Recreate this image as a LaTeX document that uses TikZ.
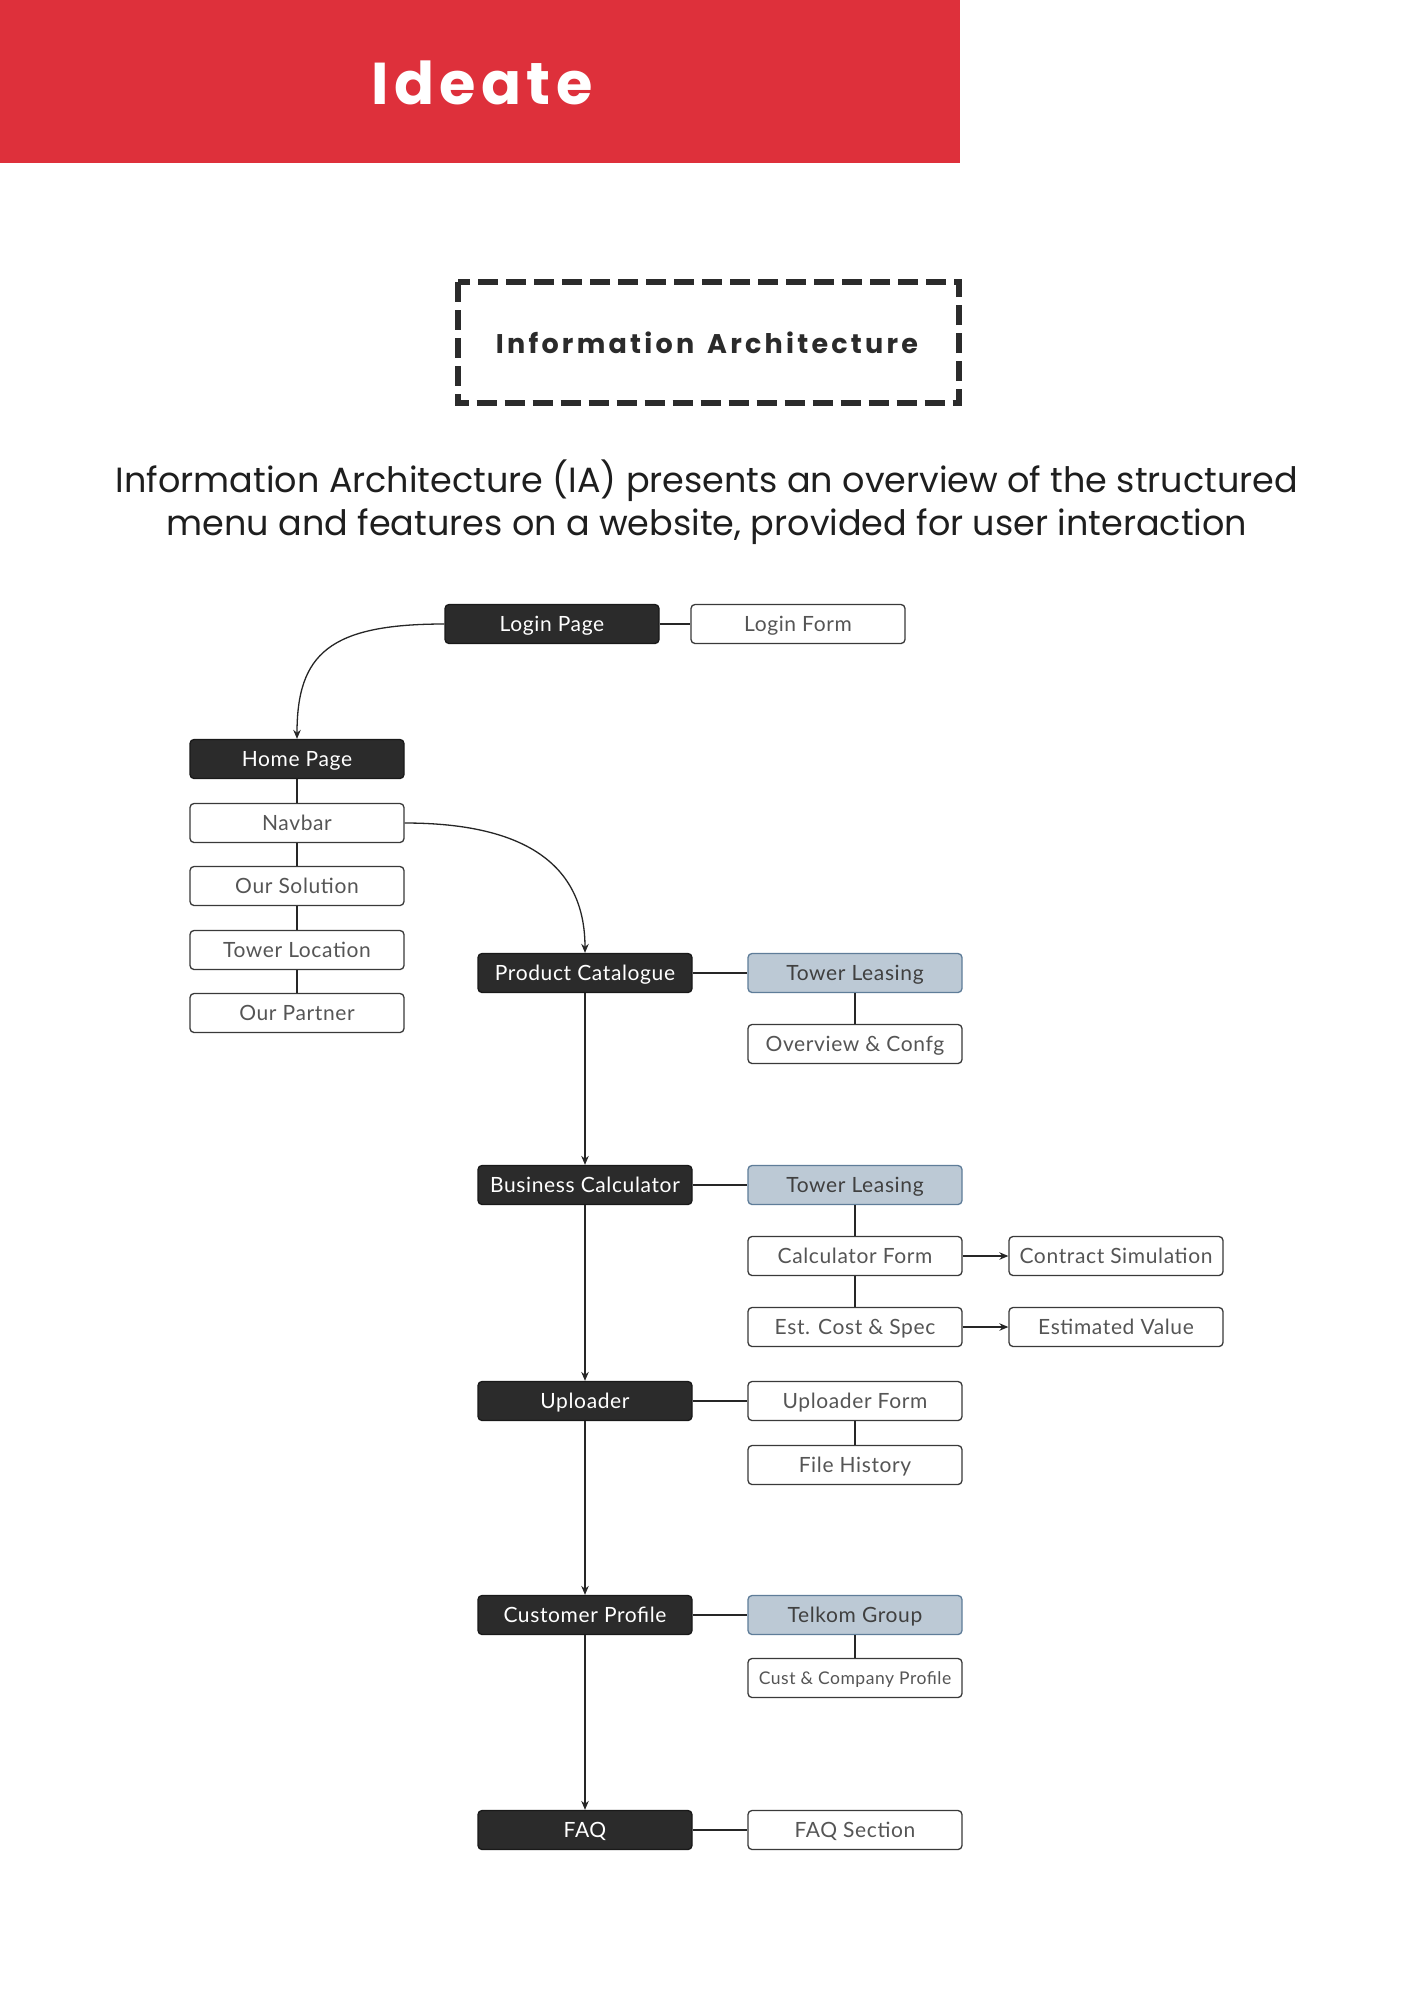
\documentclass[tikz,border=0pt]{standalone}
\usepackage{fontspec}
\setmainfont{Poppins}
\newfontfamily\headfont[LetterSpace=12]{Poppins}
\newfontfamily\ideatefont[LetterSpace=9]{Poppins}
\newfontfamily\nodefont[LetterSpace=3]{Lato}
\usetikzlibrary{arrows.meta}
\definecolor{banner}{HTML}{DE303B}
\definecolor{darkbox}{HTML}{2B2B2B}
\definecolor{bluefill}{HTML}{BCC9D5}
\definecolor{blueline}{HTML}{5F7D99}
\definecolor{boxline}{HTML}{3A3A3A}
\definecolor{graytext}{HTML}{555555}
\definecolor{inktext}{HTML}{1E1E1E}
\begin{document}
\begin{tikzpicture}[x=1pt,y=-1pt,
 base/.style={rounded corners=4pt, minimum width=214pt, minimum height=39pt, line width=1.3pt, inner sep=0pt, text height=15pt, text depth=0pt, font=\nodefont\fontsize{21}{24}\selectfont},
 darkbox/.style={base, fill=darkbox, draw=black!90, text=white},
 lightbox/.style={base, fill=white, draw=boxline, text=graytext},
 bluebox/.style={base, fill=bluefill, draw=blueline, text=black!75},
 link/.style={line width=1.3pt, draw=black!85},
 arr/.style={link, -{Stealth[length=9pt,width=7.5pt]}},
]
\useasboundingbox (0,0) rectangle (1414,2000);
\fill[white] (0,0) rectangle (1414,2000);
\fill[banner] (0,0) rectangle (960,163);
\node[text=white, font=\ideatefont\bfseries\fontsize{59}{70}\selectfont] (ideate) at (482,83) {Ideate};
\draw[draw=darkbox, line width=6pt, dash pattern=on 20pt off 8pt] (457.5,282) rectangle (958.5,403);
\node[text=darkbox, font=\headfont\bfseries\fontsize{27}{32}\selectfont] (iatitle) at (707,343) {Information\hspace{4pt} Architecture};
\node[text=inktext, align=center, font=\fontsize{35}{43}\selectfont] (para) at (707,502) {Information Architecture (IA) presents an overview of the structured\\menu and features on a website, provided for user interaction};

% left column
\node[darkbox] (login) at (552,624) {Login Page};
\node[lightbox] (loginform) at (798,624) {Login Form};
\node[darkbox] (home) at (297,759) {Home Page};
\node[lightbox] (navbar) at (297,823) {Navbar};
\node[lightbox] (solution) at (297,886) {Our Solution};
\node[lightbox] (towerloc) at (297,950) {Tower Location};
\node[lightbox] (partner) at (297,1013) {Our Partner};

% main column
\node[darkbox] (catalogue) at (585,973) {Product Catalogue};
\node[darkbox] (calc) at (585,1185) {Business Calculator};
\node[darkbox] (uploader) at (585,1401) {Uploader};
\node[darkbox] (profile) at (585,1615) {Customer Profile};
\node[darkbox] (faq) at (585,1830) {FAQ};

% right column
\node[bluebox] (lease1) at (855,973) {Tower Leasing};
\node[lightbox] (overview) at (855,1044) {Overview \& Confg};
\node[bluebox] (lease2) at (855,1185) {Tower Leasing};
\node[lightbox] (calcform) at (855,1256) {Calculator Form};
\node[lightbox] (estcost) at (855,1327) {Est. Cost \& Spec};
\node[lightbox] (contract) at (1116,1256) {Contract Simulation};
\node[lightbox] (estvalue) at (1116,1327) {Estimated Value};
\node[lightbox] (upform) at (855,1401) {Uploader Form};
\node[lightbox] (history) at (855,1465) {File History};
\node[bluebox] (telkom) at (855,1615) {Telkom Group};
\node[lightbox, text height=12.5pt, font=\nodefont\fontsize{17.5}{20}\selectfont] (custprof) at (855,1678) {Cust \& Company Profile};
\node[lightbox] (faqsec) at (855,1830) {FAQ Section};

% connectors
\draw[arr] (login.west) .. controls +(-115,0) and +(0,-85) .. (home.north);
\draw[link] (login) -- (loginform);
\draw[link] (home) -- (navbar);
\draw[link] (navbar) -- (solution);
\draw[link] (solution) -- (towerloc);
\draw[link] (towerloc) -- (partner);
\draw[arr] (navbar.east) .. controls +(125,0) and +(0,-85) .. (catalogue.north);
\draw[arr] (catalogue) -- (calc);
\draw[arr] (calc) -- (uploader);
\draw[arr] (uploader) -- (profile);
\draw[arr] (profile) -- (faq);
\draw[link] (catalogue) -- (lease1);
\draw[link] (lease1) -- (overview);
\draw[link] (calc) -- (lease2);
\draw[link] (lease2) -- (calcform);
\draw[link] (calcform) -- (estcost);
\draw[arr] (calcform) -- (contract);
\draw[arr] (estcost) -- (estvalue);
\draw[link] (uploader) -- (upform);
\draw[link] (upform) -- (history);
\draw[link] (profile) -- (telkom);
\draw[link] (telkom) -- (custprof);
\draw[link] (faq) -- (faqsec);
\end{tikzpicture}
\end{document}
